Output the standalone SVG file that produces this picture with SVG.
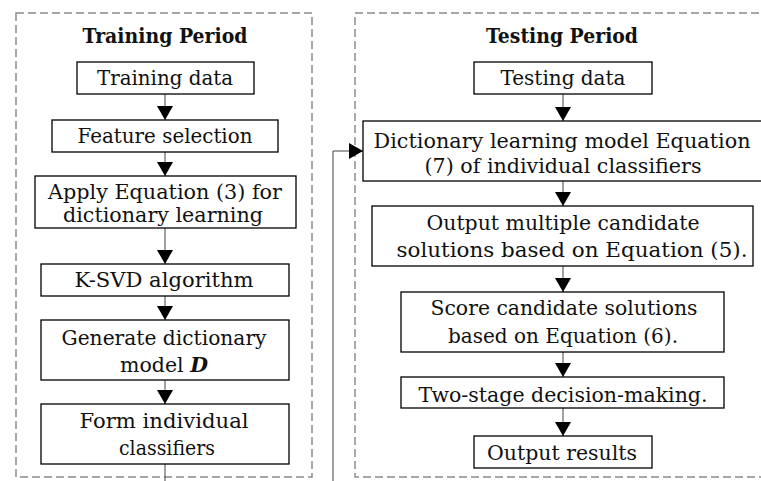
<svg xmlns="http://www.w3.org/2000/svg" width="761" height="481" viewBox="0 0 761 481">
<style>
.frame{fill:none;stroke:#8c8c8c;stroke-width:1.5;stroke-dasharray:8 4}
.box{fill:#fff;stroke:#000;stroke-width:1.3}
.t{font-family:"DejaVu Serif","Liberation Serif",serif;font-size:20.5px;fill:#111;text-anchor:middle}
.title{font-family:"DejaVu Serif","Liberation Serif",serif;font-size:20px;font-weight:bold;fill:#111;text-anchor:middle}
.c{fill:none;stroke:#444;stroke-width:1}
</style>
<defs>
<marker id="ah" markerUnits="userSpaceOnUse" markerWidth="15" markerHeight="16" viewBox="0 0 14 16" refX="14" refY="8" orient="auto">
<path d="M0,0 L14,8 L0,16 z" fill="#000"/>
</marker>
</defs>
<rect class="frame" x="16" y="13" width="296" height="464"/>
<rect class="frame" x="355" y="13" width="430" height="464"/>
<text class="title" x="165" y="43" textLength="165" lengthAdjust="spacingAndGlyphs">Training Period</text>
<text class="title" x="562" y="43" textLength="152" lengthAdjust="spacingAndGlyphs">Testing Period</text>
<g id="connectors">
<path class="c" d="M165,94 V120" marker-end="url(#ah)"/>
<path class="c" d="M165,152 V176" marker-end="url(#ah)"/>
<path class="c" d="M165,228 V264" marker-end="url(#ah)"/>
<path class="c" d="M165,296 V320" marker-end="url(#ah)"/>
<path class="c" d="M165,380 V404" marker-end="url(#ah)"/>
<path class="c" d="M563,94 V121" marker-end="url(#ah)"/>
<path class="c" d="M563,181 V206" marker-end="url(#ah)"/>
<path class="c" d="M563,266 V292" marker-end="url(#ah)"/>
<path class="c" d="M563,352 V377" marker-end="url(#ah)"/>
<path class="c" d="M563,408 V436" marker-end="url(#ah)"/>
<path class="c" d="M165,464 V495 H333 V151 H363" marker-end="url(#ah)"/>
</g>
<g id="n1"><rect class="box" x="77" y="62" width="177" height="32"/><text class="t" x="165" y="85" textLength="136" lengthAdjust="spacingAndGlyphs">Training data</text></g>
<g id="n2"><rect class="box" x="52" y="120" width="226" height="32"/><text class="t" x="165" y="143" textLength="175" lengthAdjust="spacingAndGlyphs">Feature selection</text></g>
<g id="n3"><rect class="box" x="35" y="176" width="261" height="52"/><text class="t" x="165" y="199" textLength="234" lengthAdjust="spacingAndGlyphs">Apply Equation (3) for</text><text class="t" x="163" y="222" textLength="200" lengthAdjust="spacingAndGlyphs">dictionary learning</text></g>
<g id="n4"><rect class="box" x="41" y="264" width="248" height="32"/><text class="t" x="164" y="287" textLength="179" lengthAdjust="spacingAndGlyphs">K-SVD algorithm</text></g>
<g id="n5"><rect class="box" x="41" y="320" width="248" height="60"/><text class="t" x="164" y="345" textLength="205" lengthAdjust="spacingAndGlyphs">Generate dictionary</text><text class="t" x="164" y="372" textLength="88" lengthAdjust="spacingAndGlyphs">model <tspan font-weight="bold" font-style="italic">D</tspan></text></g>
<g id="n6"><rect class="box" x="41" y="404" width="248" height="60"/><text class="t" x="164" y="428" textLength="169" lengthAdjust="spacingAndGlyphs">Form individual</text><text class="t" x="167" y="455" textLength="96" lengthAdjust="spacingAndGlyphs">classifiers</text></g>
<g id="m1"><rect class="box" x="474" y="62" width="178" height="32"/><text class="t" x="563" y="85" textLength="125" lengthAdjust="spacingAndGlyphs">Testing data</text></g>
<g id="m2"><rect class="box" x="363" y="121" width="410" height="60"/><text class="t" x="562" y="148" textLength="377" lengthAdjust="spacingAndGlyphs">Dictionary learning model Equation</text><text class="t" x="563" y="173" textLength="277" lengthAdjust="spacingAndGlyphs">(7) of individual classifiers</text></g>
<g id="m3"><rect class="box" x="372" y="206" width="381" height="60"/><text class="t" x="563" y="230" textLength="273" lengthAdjust="spacingAndGlyphs">Output multiple candidate</text><text class="t" x="572" y="257" textLength="351" lengthAdjust="spacingAndGlyphs">solutions based on Equation (5).</text></g>
<g id="m4"><rect class="box" x="401" y="292" width="323" height="60"/><text class="t" x="564" y="315" textLength="267" lengthAdjust="spacingAndGlyphs">Score candidate solutions</text><text class="t" x="563" y="343" textLength="230" lengthAdjust="spacingAndGlyphs">based on Equation (6).</text></g>
<g id="m5"><rect class="box" x="401" y="377" width="323" height="31"/><text class="t" x="563" y="402" textLength="289" lengthAdjust="spacingAndGlyphs">Two-stage decision-making.</text></g>
<g id="m6"><rect class="box" x="474" y="436" width="178" height="32"/><text class="t" x="562" y="460" textLength="150" lengthAdjust="spacingAndGlyphs">Output results</text></g>
</svg>
